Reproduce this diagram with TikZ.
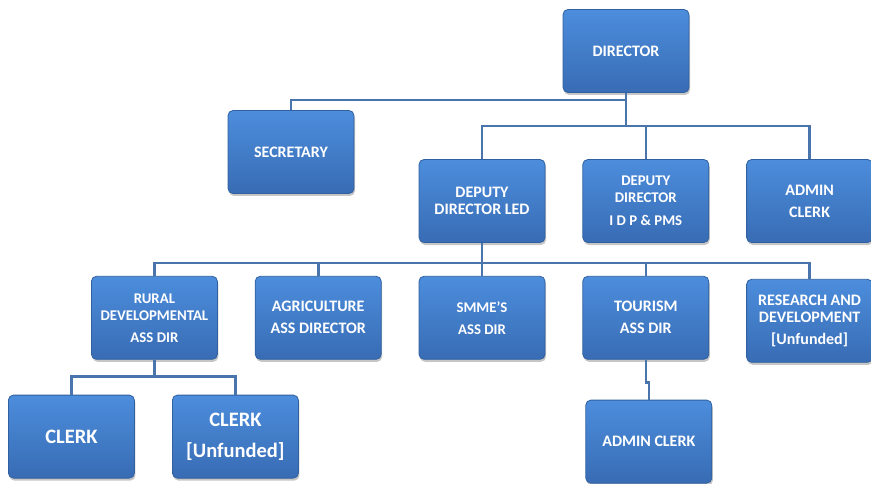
\documentclass[tikz,border=0pt]{standalone}
\usepackage{fontspec}
\setmainfont{Carlito}
\usetikzlibrary{positioning,shadows,calc}
\definecolor{orgTop}{HTML}{4C8DDC}
\definecolor{orgBot}{HTML}{386CB4}
\definecolor{orgEdge}{HTML}{30609F}
\definecolor{orgLine}{HTML}{4A74AC}

\begin{document}
\begin{tikzpicture}[x=1pt, y=1pt,
  post/.style={draw=orgEdge, line width=0.8pt, rounded corners=5pt, top color=orgTop, bottom color=orgBot,
    minimum width=126pt, minimum height=83pt, align=center, text=white,
    font=\fontsize{16}{17}\selectfont\bfseries,
    drop shadow={shadow xshift=1pt, shadow yshift=-2.5pt, opacity=0.45}},
  small/.style={font=\fontsize{14.8}{17}\selectfont\bfseries},
  big/.style={font=\fontsize{20.5}{25}\selectfont\bfseries},
  link/.style={draw=orgLine, line width=2.6pt},
  node distance=33pt and 37pt]
\useasboundingbox (0,0) rectangle (871,-484);
% top of the chart
\node[post] (dir) at (626,-51) {DIRECTOR};
\node[post] (sec) at (291,-152) {SECRETARY};
\node[post] (dled) at (482,-201) {DEPUTY\\DIRECTOR LED};
\node[post, small, right=of dled] (didp) {DEPUTY\\DIRECTOR\\[6pt]I D P \& PMS};
\node[post, right=of didp] (aclk) {ADMIN\\[5pt]CLERK};
% assistant directors
\node[post, small, below=of dled] (smme) {SMME'S\\[5pt]ASS DIR};
\node[post, left=of smme] (agri) {AGRICULTURE\\[5pt]ASS DIRECTOR};
\node[post, small, left=of agri] (rural) {RURAL\\DEVELOPMENTAL\\[5pt]ASS DIR};
\node[post, right=of smme] (tour) {TOURISM\\[5pt]ASS DIR};
\node[post, right=of tour, yshift=-3pt] (rnd) {RESEARCH AND\\DEVELOPMENT\\[5pt][Unfunded]};
% bottom row
\node[post, big, below=35pt of rural, xshift=-83pt] (clk) {CLERK};
\node[post, big, below=35pt of rural, xshift=81pt] (clku) {CLERK\\[6pt][Unfunded]};
\node[post, below=40pt of tour, xshift=3pt] (aclkb) {ADMIN CLERK};

% connectors
\coordinate (busa) at ([yshift=-7pt]dir.south);
\coordinate (busb) at ([yshift=-33pt]dir.south);
\coordinate (busc) at ([yshift=-20pt]dled.south);
\coordinate (busd) at ([yshift=-17pt]rural.south);
\coordinate (buse) at ([yshift=-23pt]tour.south);
\draw[link] (dir.south) -- (busb);
\draw[link] (sec.north) |- (busa);
\draw[link] (dled.north) |- (busb) -| (aclk.north);
\draw[link] (didp.north) -- (didp.north |- busb);
\draw[link] (dled.south) -- (busc);
\draw[link] (rural.north) |- (busc) -| (rnd.north);
\draw[link] (agri.north) -- (agri.north |- busc);
\draw[link] (smme.north) -- (smme.north |- busc);
\draw[link] (tour.north) -- (tour.north |- busc);
\draw[link] (rural.south) -- (busd);
\draw[link] (clk.north) |- (busd) -| (clku.north);
\draw[link] (tour.south) -- (buse) -| (aclkb.north);
\end{tikzpicture}
\end{document}
